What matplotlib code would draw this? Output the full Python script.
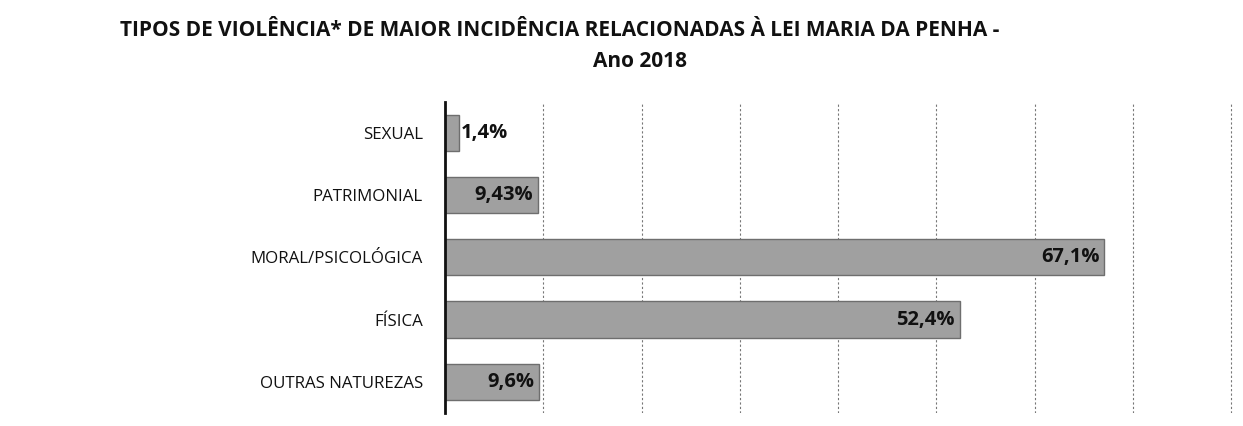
import matplotlib.pyplot as plt
from matplotlib import font_manager

categories = ['SEXUAL', 'PATRIMONIAL', 'MORAL/PSICOLÓGICA', 'FÍSICA', 'OUTRAS NATUREZAS']
values = [1.4, 9.43, 67.1, 52.4, 9.6]
value_labels = ['1,4%', '9,43%', '67,1%', '52,4%', '9,6%']

names = set(f.name for f in font_manager.fontManager.ttflist)
fam = ['Liberation Sans Narrow', 'DejaVu Sans'] if 'Liberation Sans Narrow' in names else ['Open Sans', 'DejaVu Sans']
plt.rcParams['font.family'] = fam

fig = plt.figure(figsize=(12.43, 4.26), dpi=100)
ax = fig.add_axes([0.358, 0.031, 0.638, 0.730])

y = list(range(len(categories)))
ax.barh(y, values, height=0.58, color='#a0a0a0', edgecolor='#6e6e6e', linewidth=1.0, zorder=3)

ax.set_xlim(0, 80.7)
ax.set_ylim(len(categories) - 0.5, -0.5)
ax.set_yticks(y)
ax.set_yticklabels(categories, fontsize=12.2, color='#111111')
ax.tick_params(axis='y', length=0, pad=16)
ax.set_xticks(range(10, 81, 10))
ax.tick_params(axis='x', length=0, labelbottom=False)
ax.grid(axis='x', color='#777777', linestyle=(0, (2, 2)), linewidth=0.8, zorder=0)
for s in ['top', 'right', 'bottom']:
    ax.spines[s].set_visible(False)
ax.spines['left'].set_linewidth(2)
ax.spines['left'].set_color('#111111')
ax.spines['left'].set_zorder(4)

for i, (v, lab) in enumerate(zip(values, value_labels)):
    if v < 5:
        ax.text(v + 0.2, i, lab, ha='left', va='center', fontsize=14.5, fontweight='bold', color='#111111', zorder=5)
    else:
        ax.text(v - 0.5, i, lab, ha='right', va='center', fontsize=14.5, fontweight='bold', color='#111111', zorder=5)

fig.text(0.45, 0.928, 'TIPOS DE VIOLÊNCIA* DE MAIOR INCIDÊNCIA RELACIONADAS À LEI MARIA DA PENHA -',
         ha='center', va='center', fontsize=15, fontweight='bold', color='#111111')
fig.text(0.515, 0.855, 'Ano 2018', ha='center', va='center', fontsize=15, fontweight='bold', color='#111111')

fig.savefig('out.png', dpi=100)
